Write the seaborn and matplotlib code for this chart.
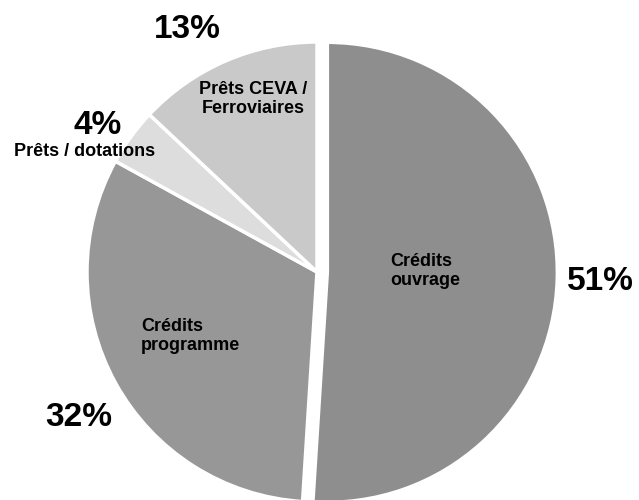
import matplotlib
matplotlib.use("Agg")
import matplotlib.pyplot as plt
import seaborn as sns
import numpy as np

sns.set_theme(style="white")
plt.rcParams["font.family"] = ["Liberation Sans", "DejaVu Sans"]

# data (clockwise from 12 o'clock)
labels = ["Crédits\nouvrage", "Crédits\nprogramme", "Prêts / dotations", "Prêts CEVA /\nFerroviaires"]
shares = [51, 32, 4, 13]
colors = ["#8e8e8e", "#979797", "#dddddd", "#c9c9c9"]
explode = [0.045, 0, 0, 0]

# label placement in pixels (name position, percent position, alignment of name)
name_px = [(390, 271, "left"), (141, 336, "left"), (85, 152, "center"), (253, 99, "center")]
pct_px = [(600, 281), (79, 417), (98, 125), (187, 29)]

W, H = 639, 500
cx, cy, R = 317, 272, 230   # pie centre and radius in pixels


def to_data(px, py):
    return (px - cx) / R, (cy - py) / R


fig = plt.figure(figsize=(W / 100, H / 100), dpi=100)
ax = fig.add_axes([0, 0, 1, 1])

ax.pie(shares, colors=colors, explode=explode, startangle=90, counterclock=False,
       radius=1, center=(0, 0),
       wedgeprops=dict(edgecolor="white", linewidth=2.5))

for lab, (px, py, ha) in zip(labels, name_px):
    x, y = to_data(px, py)
    ax.text(x, y, lab, ha=ha, va="center", fontsize=13, fontweight="bold",
            color="black", linespacing=1.15)

for v, (px, py) in zip(shares, pct_px):
    x, y = to_data(px, py)
    ax.text(x, y, f"{v}%", ha="center", va="center", fontsize=24,
            fontweight="bold", color="black")

ax.set_xlim(-cx / R, (W - cx) / R)
ax.set_ylim(-(H - cy) / R, cy / R)
ax.set_aspect("equal")
ax.axis("off")

fig.savefig("out.png", dpi=100, facecolor="white")
